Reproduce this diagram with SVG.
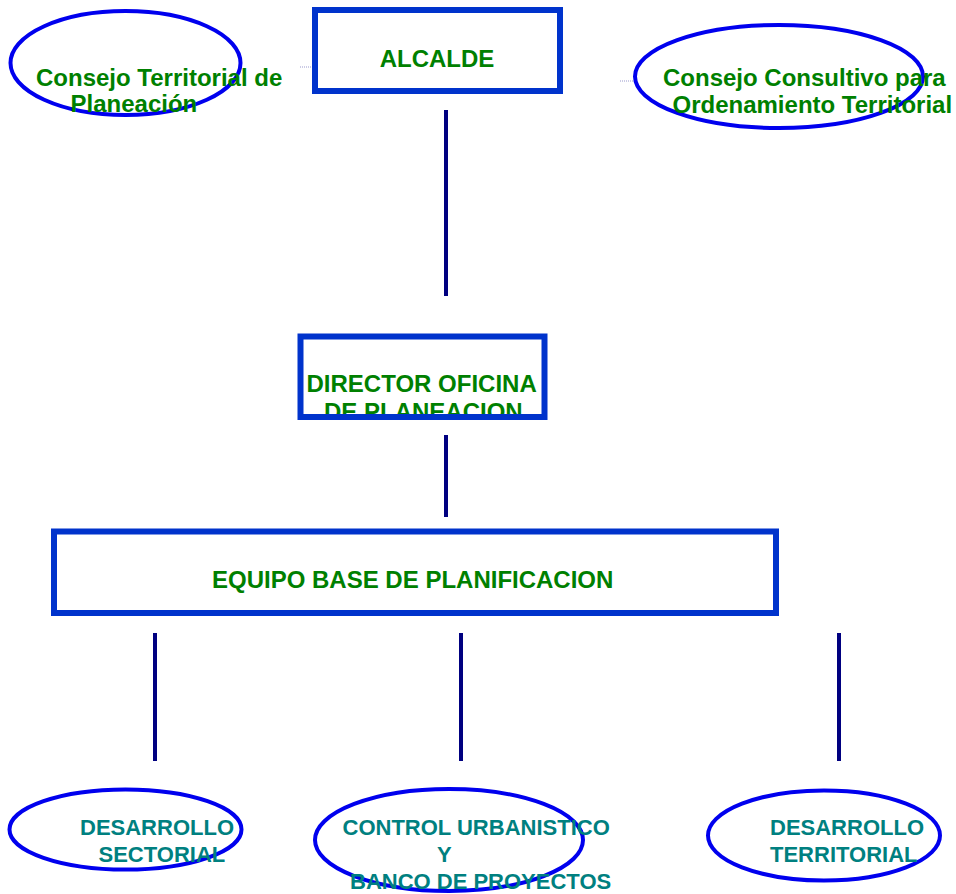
<svg xmlns="http://www.w3.org/2000/svg" width="956" height="894" viewBox="0 0 956 894">
<style>
  .box { fill: none; stroke: #0033CC; stroke-width: 6; }
  .oval { fill: none; stroke: #0000EE; stroke-width: 4; }
  .g { font-family: "Liberation Sans", Arial, sans-serif; font-weight: bold; font-size: 24px; fill: #008000; }
  .t { font-family: "Liberation Sans", Arial, sans-serif; font-weight: bold; font-size: 22px; fill: #008080; }
  .link { stroke: #000080; stroke-width: 4; }
  .thin { stroke: #9999CC; stroke-width: 1; stroke-dasharray: 1 1; }
</style>
<rect width="956" height="894" fill="#FFFFFF"/>
<g id="connectors">
  <line class="thin" x1="300" y1="67" x2="312" y2="67"/>
  <line class="thin" x1="620" y1="81" x2="634" y2="81"/>
  <line class="link" x1="446" y1="110" x2="446" y2="296"/>
  <line class="link" x1="446" y1="435" x2="446" y2="517"/>
  <line class="link" x1="155" y1="633" x2="155" y2="761"/>
  <line class="link" x1="461" y1="633" x2="461" y2="761"/>
  <line class="link" x1="839" y1="633" x2="839" y2="761"/>
</g>
<g id="consejo-territorial">
  <ellipse class="oval" cx="125.5" cy="63" rx="115" ry="52"/>
  <text class="g" x="36" y="85.5">Consejo Territorial de</text>
  <text class="g" x="70.5" y="112">Planeación</text>
</g>
<g id="alcalde">
  <rect class="box" x="315" y="10" width="245" height="81"/>
  <text class="g" x="437" y="67" text-anchor="middle">ALCALDE</text>
</g>
<g id="consejo-consultivo">
  <ellipse class="oval" cx="779" cy="76.5" rx="144" ry="51.5"/>
  <text class="g" x="663" y="86">Consejo Consultivo para</text>
  <text class="g" x="672.5" y="113">Ordenamiento Territorial</text>
</g>
<g id="director">
  <text class="g" x="306.5" y="391.5">DIRECTOR OFICINA</text>
  <text class="g" x="324" y="420">DE PLANEACION</text>
  <rect class="box" x="300.5" y="336.5" width="244" height="80.5"/>
</g>
<g id="equipo">
  <rect class="box" x="54" y="531.5" width="722" height="81.5"/>
  <text class="g" x="212" y="588">EQUIPO BASE DE PLANIFICACION</text>
</g>
<g id="desarrollo-sectorial">
  <ellipse class="oval" cx="125.5" cy="829.5" rx="116" ry="40"/>
  <text class="t" x="80" y="834.5">DESARROLLO</text>
  <text class="t" x="98.5" y="861.5">SECTORIAL</text>
</g>
<g id="control-urbanistico">
  <ellipse class="oval" cx="449" cy="840" rx="134" ry="51"/>
  <text class="t" x="342.5" y="834.5">CONTROL URBANISTICO</text>
  <text class="t" x="437" y="861.5">Y</text>
  <text class="t" x="350" y="888.5">BANCO DE PROYECTOS</text>
</g>
<g id="desarrollo-territorial">
  <ellipse class="oval" cx="824" cy="835.5" rx="116" ry="45"/>
  <text class="t" x="770" y="835">DESARROLLO</text>
  <text class="t" x="770" y="861.5">TERRITORIAL</text>
</g>
</svg>
